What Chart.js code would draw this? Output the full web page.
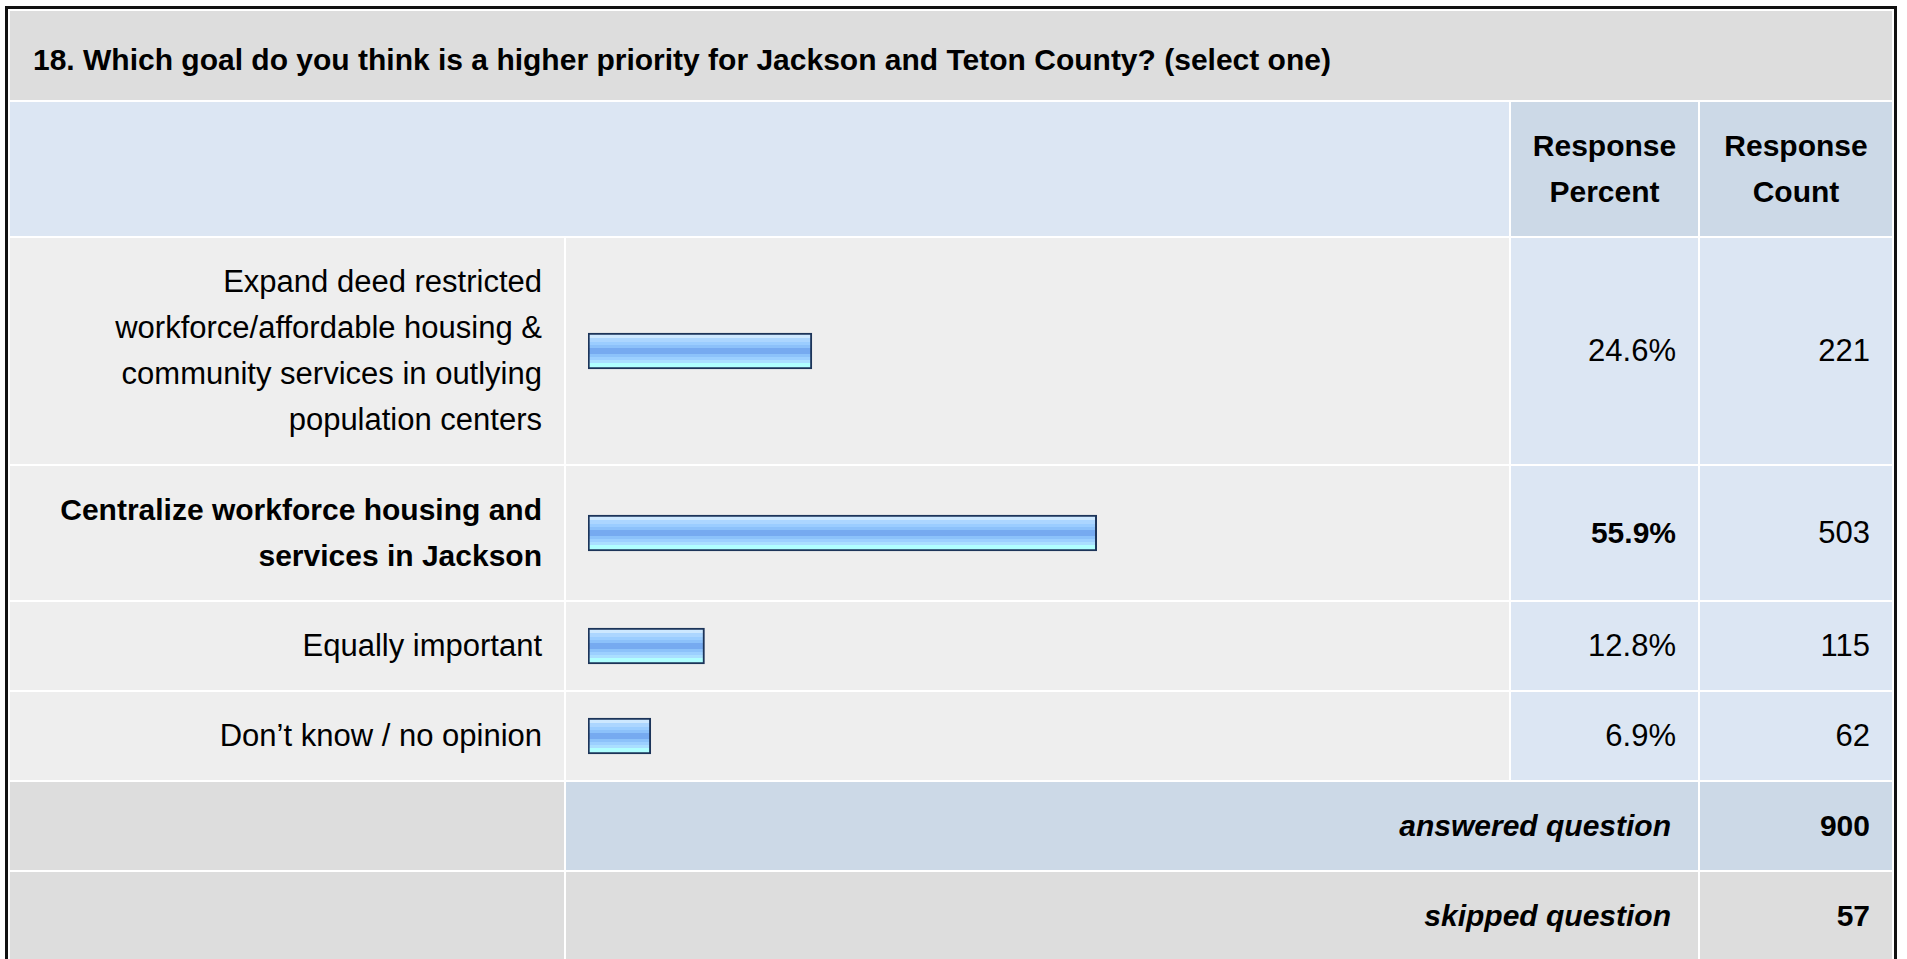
<!DOCTYPE html>
<html>
<head>
<meta charset="utf-8">
<title>Question 18</title>
<script src="https://cdn.jsdelivr.net/npm/chart.js@4.4.1/dist/chart.umd.min.js"></script>
<style>
    html, body { margin: 0; padding: 0; background: #fff; }
    body { width: 1907px; height: 959px; overflow: hidden; font-family: "Liberation Sans", Arial, sans-serif; color: #000; }
    .frame { position: absolute; left: 5px; top: 6px; border: 3px solid #111; border-bottom: none; }
    table { border-collapse: separate; border-spacing: 2px; table-layout: fixed; width: 1886px; background: #fff; }
    td { padding: 21px 22px; font-size: 31px; line-height: 46px; vertical-align: middle; }
    td.title { background: #dddddd; font-weight: bold; font-size: 30px; padding: 26px 23px 17px; height: 46px; }
    td.headBlank { background: #dce6f3; }
    td.head { background: #ccd9e7; font-weight: bold; font-size: 30px; text-align: center; padding: 21px 4px; }
    td.label { background: #eeeeee; text-align: right; white-space: pre-line; }
    td.bar { background: #eeeeee; padding: 0; }
    td.num { background: #dce6f3; text-align: right; }
    td.gray { background: #dddddd; }
    td.total { background: #ccd9e7; text-align: right; font-weight: bold; font-size: 30px; }
    td.total.skip { background: #dddddd; }
    .strong { font-weight: bold; font-size: 30px; }
    .it { font-style: italic; padding-right: 5px; }
    .barbox { position: relative; width: 943px; }
</style>
</head>
<body>
<div class="frame">
    <table id="survey">
        <colgroup>
            <col style="width:554px">
            <col style="width:943px">
            <col style="width:187px">
            <col style="width:192px">
        </colgroup>
        <tbody id="rows"></tbody>
    </table>
</div>
<script>
'use strict';

// Survey data
const questionTitle = '18. Which goal do you think is a higher priority for Jackson and Teton County? (select one)';
const answerLabels = [
    'Expand deed restricted\nworkforce/affordable housing &\ncommunity services in outlying\npopulation centers',
    'Centralize workforce housing and\nservices in Jackson',
    'Equally important',
    'Don\u2019t know / no opinion'
];
const responsePercent = [24.6, 55.9, 12.8, 6.9];
const responseCount = [221, 503, 115, 62];
const answeredQuestion = 900;
const skippedQuestion = 57;

const topIndex = responsePercent.indexOf(Math.max(...responsePercent));

// Striped glossy fill of the bar, built from the chart area
function barFill(c) {
    const area = c.chart.chartArea;
    if (!area) return '#99ccff';
    const mid = (area.top + area.bottom) / 2;
    const g = c.chart.ctx.createLinearGradient(0, mid - 18, 0, mid + 18);
    const stripes = [
        ['#cde8ff', 0.00, 0.14],
        ['#acd6ff', 0.14, 0.24],
        ['#9bcdff', 0.24, 0.34],
        ['#8cc1fa', 0.34, 0.42],
        ['#76aaf0', 0.42, 0.58],
        ['#8cc2fa', 0.58, 0.66],
        ['#9cd0ff', 0.66, 0.74],
        ['#aadfff', 0.74, 0.82],
        ['#b0ffff', 0.82, 1.00]
    ];
    stripes.forEach(([col, a, b]) => {
        g.addColorStop(a, col);
        g.addColorStop(b, col);
    });
    return g;
}

function cell(tr, cls, html, span) {
    const td = document.createElement('td');
    td.className = cls;
    if (span) td.colSpan = span;
    td.innerHTML = html;
    tr.appendChild(td);
    return td;
}

const tbody = document.getElementById('rows');

// Title row
let tr = document.createElement('tr');
cell(tr, 'title', questionTitle, 4);
tbody.appendChild(tr);

// Header row
tr = document.createElement('tr');
cell(tr, 'headBlank', '', 2);
cell(tr, 'head', 'Response<br>Percent');
cell(tr, 'head', 'Response<br>Count');
tbody.appendChild(tr);

// Answer rows
const barCells = [];
answerLabels.forEach((label, i) => {
    const row = document.createElement('tr');
    const bold = i === topIndex;
    const lab = cell(row, 'label', '');
    lab.textContent = label;
    if (bold) lab.classList.add('strong');
    barCells.push(cell(row, 'bar', ''));
    cell(row, 'num', bold ? '<span class="strong">' + responsePercent[i].toFixed(1) + '%</span>' : responsePercent[i].toFixed(1) + '%');
    cell(row, 'num', String(responseCount[i]));
    tbody.appendChild(row);
});

// Totals
tr = document.createElement('tr');
cell(tr, 'gray', '');
cell(tr, 'total', '<span class="it">answered question</span>', 2);
cell(tr, 'total', String(answeredQuestion));
tbody.appendChild(tr);

tr = document.createElement('tr');
cell(tr, 'gray', '');
cell(tr, 'total skip', '<span class="it">skipped question</span>', 2);
cell(tr, 'total skip', String(skippedQuestion));
tbody.appendChild(tr);

// One small horizontal bar chart per answer row
barCells.forEach((td, i) => {
    const box = document.createElement('div');
    box.className = 'barbox';
    box.style.height = td.clientHeight + 'px';
    const canvas = document.createElement('canvas');
    box.appendChild(canvas);
    td.appendChild(box);

    new Chart(canvas, {
        type: 'bar',
        data: {
            labels: [answerLabels[i]],
            datasets: [{
                data: [responsePercent[i]],
                backgroundColor: barFill,
                borderColor: '#1c3459',
                borderWidth: 2,
                borderSkipped: false,
                barThickness: 36
            }]
        },
        options: {
            indexAxis: 'y',
            responsive: true,
            maintainAspectRatio: false,
            animation: false,
            layout: { padding: { left: 22, right: 11, top: 0, bottom: 0 } },
            plugins: {
                legend: { display: false },
                tooltip: { enabled: false }
            },
            scales: {
                x: { display: false, min: 0, max: 100 },
                y: { display: false }
            }
        }
    });
});
</script>
</body>
</html>
